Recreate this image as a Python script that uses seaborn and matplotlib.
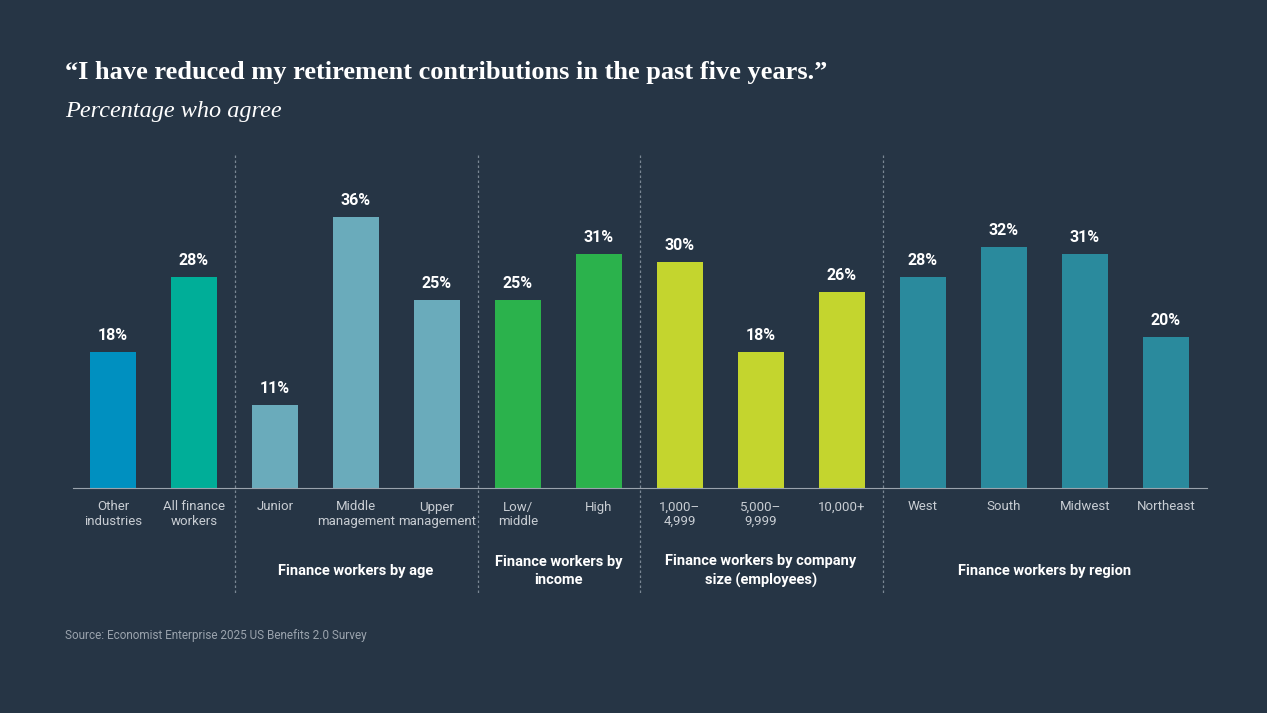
import matplotlib
matplotlib.use("Agg")
import pandas as pd
import seaborn as sns
from matplotlib import pyplot as plt

categories = ["Other\nindustries", "All finance\nworkers", "Junior", "Middle\nmanagement", "Upper\nmanagement",
              "Low/\nmiddle", "High", "1,000–\n4,999", "5,000–\n9,999", "10,000+",
              "West", "South", "Midwest", "Northeast"]
values = [18, 28, 11, 36, 25, 25, 31, 30, 18, 26, 28, 32, 31, 20]
colors = ["#0090C0", "#00AE98", "#6AABBB", "#6AABBB", "#6AABBB", "#2BB24C", "#2BB24C",
          "#C4D52E", "#C4D52E", "#C4D52E", "#2A8A9D", "#2A8A9D", "#2A8A9D", "#2A8A9D"]
groups = ["Finance workers by age", "Finance workers by\nincome",
          "Finance workers by company\nsize (employees)", "Finance workers by region"]
group_centers = [3, 5.5, 8, 11.5]
separators = [1.5, 4.5, 6.5, 9.5]

bg = "#263545"
sans = ["Roboto", "DejaVu Sans"]
serif = ["Liberation Serif", "DejaVu Serif"]

sns.set_style("white")
fig = plt.figure(figsize=(12.67, 7.13), dpi=100, facecolor=bg)
ax = fig.add_axes([73 / 1267, 1 - 488 / 713, (1207 - 73) / 1267, (488 - 155) / 713])
ax.set_facecolor(bg)

df = pd.DataFrame({"cat": categories, "val": values})
sns.barplot(data=df, x="cat", y="val", hue="cat", palette=colors, legend=False,
            width=46 / 81, saturation=1, linewidth=0, ax=ax)
ax.set_xlim(-0.494, 13.506)
ax.set_ylim(0, 44.2)

for i, v in enumerate(values):
    ax.text(i, v + 1.2, f"{v}%", ha="center", va="bottom", color="white",
            fontsize=11.5, fontweight="bold", family=sans)

for s in ["top", "right", "left"]:
    ax.spines[s].set_visible(False)
ax.spines["bottom"].set_color("#9AA3AD")
ax.set_yticks([])
ax.set_xlabel("")
ax.set_ylabel("")
ax.tick_params(axis="x", length=0, pad=9)
ax.set_xticks(range(len(categories)))
ax.set_xticklabels(categories, color="#C8CDD3", fontsize=9.5, family=sans, linespacing=1.15)

ymin = -(595 - 488) / 7.53
for s in separators:
    ax.plot([s, s], [44.2, ymin], ls=(0, (2, 2)), color="#7A8794", lw=0.9, clip_on=False)
for c, g in zip(group_centers, groups):
    ax.text(c, -(571 - 488) / 7.53, g, ha="center", va="center", color="white",
            fontsize=10.5, fontweight="bold", family=sans, linespacing=1.35)

fig.text(65 / 1267, 1 - 72 / 713, "“I have reduced my retirement contributions in the past five years.”",
         color="white", fontsize=19, fontweight="bold", family=serif, va="center")
fig.text(65 / 1267, 1 - 111 / 713, "Percentage who agree", color="white", fontsize=17.5, style="italic",
         family=serif, va="center")
fig.text(65 / 1267, 1 - 636 / 713, "Source: Economist Enterprise 2025 US Benefits 2.0 Survey",
         color="#9AA3AD", fontsize=8.5, family=sans, va="center")

fig.savefig("out.png", dpi=100, facecolor=bg)
